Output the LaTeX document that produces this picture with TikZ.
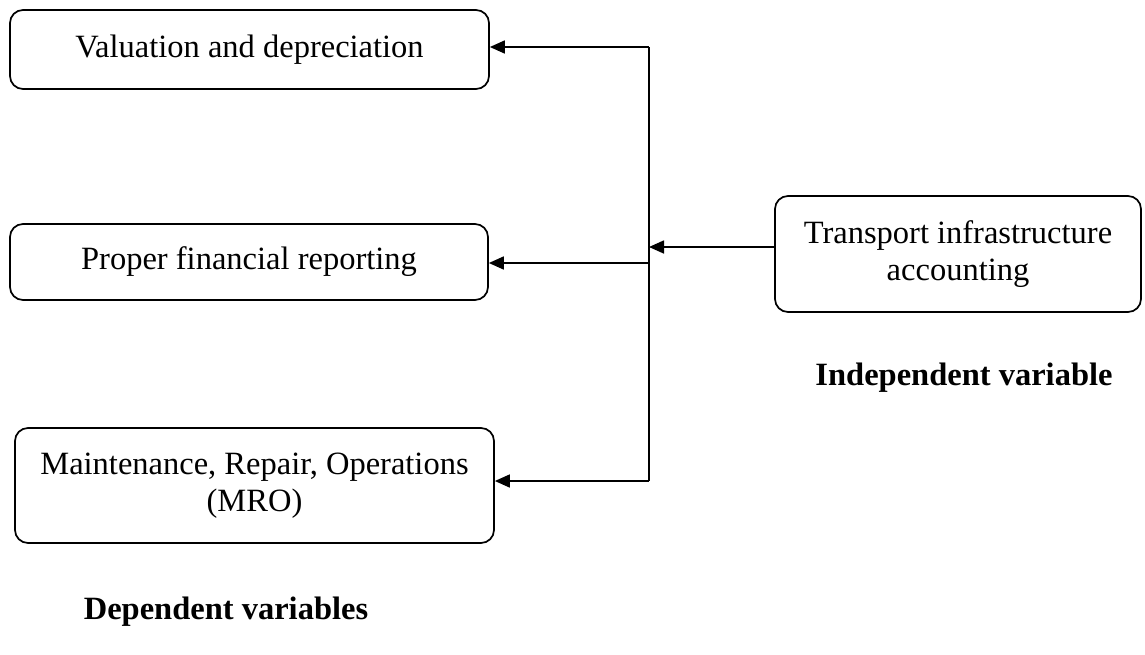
\documentclass[tikz,border=0pt]{standalone}
\usepackage{fontspec}
\setmainfont{Liberation Serif}
\usetikzlibrary{arrows.meta,positioning}

\begin{document}
\begin{tikzpicture}[x=1pt,y=-1pt,->,>={Triangle[length=15pt,width=13pt]},
            line width=1.7pt,
            font=\fontsize{32.5}{37}\selectfont]
        \tikzstyle{every node}=[text=black]
        \tikzstyle{var}=[draw=black,rounded corners=13pt,align=center,inner sep=0pt]
        \tikzstyle{caption}=[font=\fontsize{32.5}{37}\selectfont\bfseries]

        \useasboundingbox (0,0) rectangle (1145,654);

        \node[var,minimum width=479pt,minimum height=79pt] (V) at (249.5,49.5) {Valuation and depreciation};
        \node[var,minimum width=478pt,minimum height=76pt] (P) at (249,262) {Proper financial reporting};
        \node[var,minimum width=479pt,minimum height=115pt] (M) at (254.5,485.5) {Maintenance, Repair, Operations\\(MRO)};
        \node[var,minimum width=366pt,minimum height=116pt] (T) at (958,254) {Transport infrastructure\\accounting};

        \node[caption] (IV) at (964,378) {Independent variable};
        \node[caption] (DV) at (226,612) {Dependent variables};

        % the splitting line
        \coordinate (J) at (649,247);
        \coordinate (top) at (649,47);
        \coordinate (mid) at (649,263);
        \coordinate (bot) at (649,481);

        \draw[-] (top) -- (bot);
        \draw (T.west |- J) -- (J);
        \draw (top) -- (V.east |- top);
        \draw (mid) -- (P.east |- mid);
        \draw (bot) -- (M.east |- bot);
    \end{tikzpicture}
\end{document}
